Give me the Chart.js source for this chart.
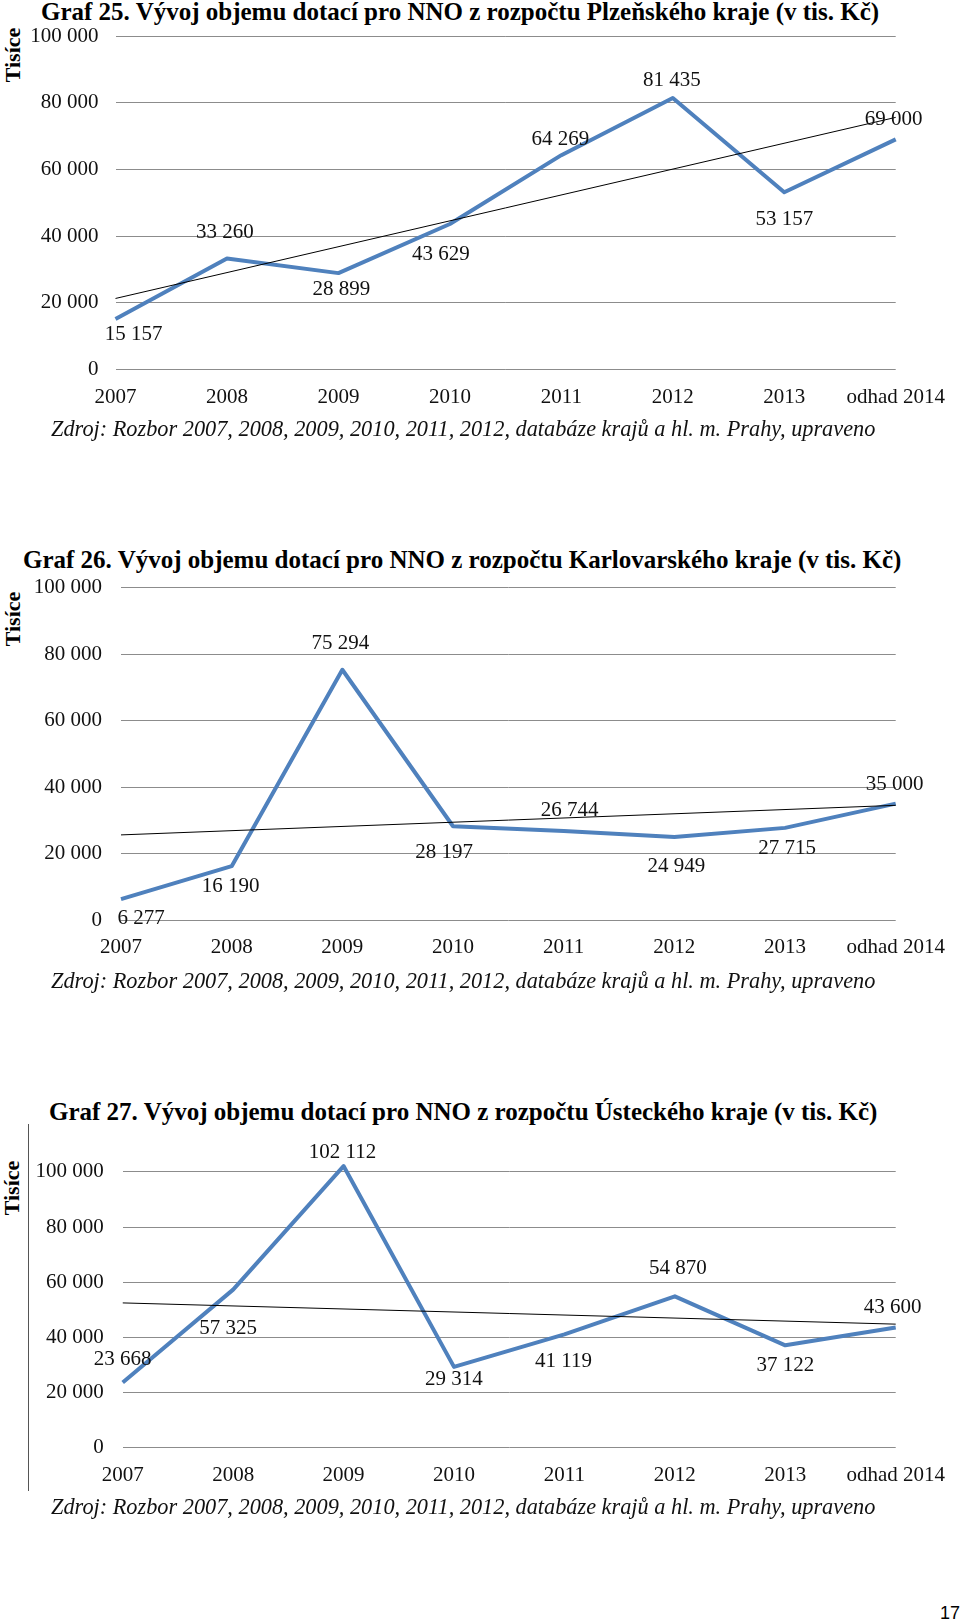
<!DOCTYPE html>
<html lang="cs">
<head>
<meta charset="utf-8">
<title>Vývoj objemu dotací pro NNO z rozpočtu krajů</title>
<script src="https://cdn.jsdelivr.net/npm/chart.js@4.4.0/dist/chart.umd.min.js"></script>
<style>
    body { margin: 0; background: #fff; }
    #page {
        position: relative;
        width: 960px;
        height: 1621px;
        overflow: hidden;
        font-family: "Liberation Serif", "Times New Roman", serif;
        color: #000;
    }
    .title { position: absolute; font-size: 25px; font-weight: bold; line-height: 1; white-space: nowrap; }
    .source { position: absolute; left: 51px; font-size: 22.3px; font-style: italic; line-height: 1; white-space: nowrap; color: #111; }
    .yname {
        position: absolute;
        width: 80px;
        font-size: 22px;
        font-weight: bold;
        line-height: 1;
        text-align: center;
        transform: rotate(-90deg);
    }
    .frame { position: absolute; left: 28px; top: 1124px; height: 367px; border-left: 1.5px solid #555; }
    .pagenum { position: absolute; left: 940px; top: 1604px; font-family: "Liberation Sans", Arial, sans-serif; font-size: 18px; line-height: 1; }
    canvas { position: absolute; left: 0; }
</style>
</head>
<body>
<div id="page">
    <div class="title" style="left:41px; top:-1px;">Graf 25. Vývoj objemu dotací pro NNO z rozpočtu Plzeňského kraje (v tis. Kč)</div>
    <div class="yname" style="left:-27px; top:44px;">Tisíce</div>
    <canvas id="graf25"></canvas>
    <div class="source" style="top:418px;">Zdroj: Rozbor 2007, 2008, 2009, 2010, 2011, 2012, databáze krajů a hl. m. Prahy, upraveno</div>

    <div class="title" style="left:23px; top:547px;">Graf 26. Vývoj objemu dotací pro NNO z rozpočtu Karlovarského kraje (v tis. Kč)</div>
    <div class="yname" style="left:-27px; top:608px;">Tisíce</div>
    <canvas id="graf26"></canvas>
    <div class="source" style="top:970px;">Zdroj: Rozbor 2007, 2008, 2009, 2010, 2011, 2012, databáze krajů a hl. m. Prahy, upraveno</div>

    <div class="title" style="left:49px; top:1099px;">Graf 27. Vývoj objemu dotací pro NNO z rozpočtu Ústeckého kraje (v tis. Kč)</div>
    <div class="frame"></div>
    <div class="yname" style="left:-28px; top:1177px;">Tisíce</div>
    <canvas id="graf27"></canvas>
    <div class="source" style="top:1496px;">Zdroj: Rozbor 2007, 2008, 2009, 2010, 2011, 2012, databáze krajů a hl. m. Prahy, upraveno</div>

    <div class="pagenum">17</div>
</div>

<script>
// Kategorie (roky)
const years = ['2007', '2008', '2009', '2010', '2011', '2012', '2013', 'odhad 2014'];

// Dotace v tis. Kč
const plzensky = [15157, 33260, 28899, 43629, 64269, 81435, 53157, 69000];
const karlovarsky = [6277, 16190, 75294, 28197, 26744, 24949, 27715, 35000];
const ustecky = [23668, 57325, 102112, 29314, 41119, 54870, 37122, 43600];

// Lineární trend - hodnoty na začátku a konci
const trendPlzensky = [21300, 75600];
const trendKarlovarsky = [25600, 34500];
const trendUstecky = [52500, 44800];

// Popisky osy Y
const yTicks = [0, 20000, 40000, 60000, 80000, 100000];

// Posun popisků hodnot od bodu (px)
const offsets25 = [[18, 14], [-2, -28], [3, 15], [-9, 29], [-1, -17], [-1, -19], [0, 26], [-2, -21]];
const offsets26 = [[20, 18], [-1, 19], [-2, -28], [-9, 25], [6, -22], [2, 28], [2, 19], [-1, -21]];
const offsets27 = [[0, -24], [-5, 37], [-1, -15], [0, 11], [-1, 26], [3, -29], [0, 19], [-3, -21]];

const BLUE = '#4f81bd';
const GRID = '#8c8c8c';

function formatNum(v) {
    return String(v).replace(/\B(?=(\d{3})+(?!\d))/g, ' ');
}

// Trend jen v prvním a posledním bodě, mezi nimi spanGaps
function trendSeries(ends) {
    return years.map((y, i) => i === 0 ? ends[0] : (i === years.length - 1 ? ends[1] : null));
}

// Popisky hodnot u bodů
const pointLabels = {
    id: 'pointLabels',
    afterDatasetsDraw(chart, args, opts) {
        const meta = chart.getDatasetMeta(0);
        const values = chart.data.datasets[0].data;
        const ctx = chart.ctx;
        ctx.save();
        ctx.font = '21px "Liberation Serif", serif';
        ctx.fillStyle = '#111';
        ctx.textAlign = 'center';
        ctx.textBaseline = 'middle';
        meta.data.forEach((pt, i) => {
            const off = opts.offsets[i];
            ctx.fillText(formatNum(values[i]), pt.x + off[0], pt.y + off[1] + 1.5);
        });
        ctx.restore();
    }
};

Chart.defaults.font.family = '"Liberation Serif", "Times New Roman", serif';
Chart.defaults.font.size = 21;
Chart.defaults.color = '#111';

// box = plocha grafu v souřadnicích stránky
function buildChart(id, values, trend, offsets, yMax, box, labelPad) {
    const canvas = document.getElementById(id);
    const canvasTop = Math.floor(box.top) - 30;
    const height = Math.ceil(box.bottom + 50 - canvasTop);
    canvas.width = 960;
    canvas.height = height;
    canvas.style.top = canvasTop + 'px';
    canvas.style.width = '960px';
    canvas.style.height = height + 'px';

    const xAxisHeight = height - (box.bottom - canvasTop);

    return new Chart(canvas, {
        type: 'line',
        data: {
            labels: years,
            datasets: [
                {
                    data: values,
                    borderColor: BLUE,
                    borderWidth: 4,
                    borderJoinStyle: 'round',
                    pointRadius: 0,
                    tension: 0,
                    order: 2
                },
                {
                    data: trendSeries(trend),
                    borderColor: '#000',
                    borderWidth: 1,
                    pointRadius: 0,
                    spanGaps: true,
                    order: 1
                }
            ]
        },
        options: {
            responsive: false,
            animation: false,
            devicePixelRatio: 1,
            layout: {
                padding: { top: box.top - canvasTop, right: 960 - box.right, bottom: 0, left: 0 }
            },
            plugins: {
                legend: { display: false },
                tooltip: { enabled: false },
                pointLabels: { offsets: offsets }
            },
            scales: {
                x: {
                    offset: false,
                    grid: { display: false, drawTicks: false },
                    border: { display: false },
                    ticks: { autoSkip: false, maxRotation: 0, padding: 15 },
                    afterFit: (s) => { s.height = xAxisHeight; }
                },
                y: {
                    min: 0,
                    max: yMax,
                    grid: { color: GRID, lineWidth: 1, drawTicks: false },
                    border: { display: false },
                    ticks: {
                        padding: labelPad,
                        callback: (v) => formatNum(v)
                    },
                    afterBuildTicks: (s) => { s.ticks = yTicks.map(v => ({ value: v })); },
                    afterFit: (s) => { s.width = box.left; }
                }
            }
        },
        plugins: [pointLabels]
    });
}

buildChart('graf25', plzensky, trendPlzensky, offsets25, 100000,
    { left: 115.5, right: 896.7, top: 36, bottom: 369.5 }, 17);
buildChart('graf26', karlovarsky, trendKarlovarsky, offsets26, 100000,
    { left: 121, right: 904, top: 586, bottom: 920 }, 19);
buildChart('graf27', ustecky, trendUstecky, offsets27, 107000,
    { left: 122.7, right: 905, top: 1151.3, bottom: 1447.7 }, 19);
</script>
</body>
</html>
